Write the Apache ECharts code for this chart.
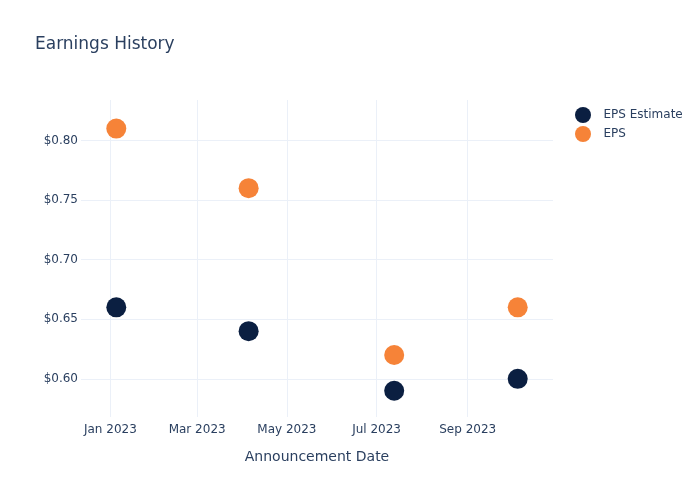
<!DOCTYPE html>
<html><head><meta charset="utf-8">
<script src="https://cdn.jsdelivr.net/npm/echarts@6/dist/echarts.min.js"></script>
<style>html,body{margin:0;padding:0;background:#fff}#c{width:700px;height:500px}</style>
</head><body><div id="c"></div>
<script>
const dates = ['2023-01-05', '2023-04-05', '2023-07-13', '2023-10-05'];
const epsEstimate = [0.66, 0.64, 0.59, 0.60];
const eps = [0.81, 0.76, 0.62, 0.66];
const xTicks = ['2023-01-01', '2023-03-01', '2023-05-01', '2023-07-01', '2023-09-01'];
const yTicks = [0.60, 0.65, 0.70, 0.75, 0.80];
const MONTHS = ['Jan','Feb','Mar','Apr','May','Jun','Jul','Aug','Sep','Oct','Nov','Dec'];
const ts = s => { const p = s.split('-').map(Number); return new Date(p[0], p[1]-1, p[2]).getTime(); };
const xTickTs = xTicks.map(ts);
const font = 'DejaVu Sans';
const txt = '#2a3f5f';
const grid = '#ebf0f8';
const chart = echarts.init(document.getElementById('c'), null, {renderer: 'canvas'});
chart.setOption({
  animation: false,
  textStyle: {fontFamily: font},
  title: {text: 'Earnings History', left: 30, top: 31, textStyle: {fontFamily: font, fontSize: 17, fontWeight: 'normal', color: txt}},
  legend: {
    orient: 'vertical', left: 570, top: 102, itemWidth: 31, itemHeight: 16, itemGap: 3,
    icon: 'circle', symbolKeepAspect: true,
    textStyle: {fontFamily: font, fontSize: 12, color: txt},
    data: ['EPS Estimate', 'EPS']
  },
  grid: {left: 81, right: 147, top: 100, bottom: 83, containLabel: false},
  xAxis: {
    type: 'value',
    min: ts('2022-12-12'), max: ts('2023-10-29'),
    name: 'Announcement Date', nameLocation: 'middle', nameGap: 33,
    nameTextStyle: {fontFamily: font, fontSize: 14, color: txt},
    axisLine: {show: false}, axisTick: {show: false, customValues: xTickTs},
    axisLabel: {customValues: xTickTs, fontFamily: font, fontSize: 12, color: txt, margin: 7,
      formatter: v => { const d = new Date(v); return MONTHS[d.getMonth()] + ' ' + d.getFullYear(); }},
    splitLine: {show: true, lineStyle: {color: grid, width: 1}}
  },
  yAxis: {
    type: 'value', min: 0.568, max: 0.834,
    axisLine: {show: false}, axisTick: {show: false, customValues: yTicks},
    axisLabel: {customValues: yTicks, fontFamily: font, fontSize: 12, color: txt, margin: 3,
      formatter: v => '$' + v.toFixed(2)},
    splitLine: {show: true, lineStyle: {color: grid, width: 1}}
  },
  series: [
    {name: 'EPS Estimate', type: 'scatter', symbolSize: 20, itemStyle: {color: '#0b1f41', opacity: 1},
      data: dates.map((d, i) => [ts(d), epsEstimate[i]])},
    {name: 'EPS', type: 'scatter', symbolSize: 20, itemStyle: {color: '#f68338', opacity: 1},
      data: dates.map((d, i) => [ts(d), eps[i]])}
  ]
});
</script></body></html>
